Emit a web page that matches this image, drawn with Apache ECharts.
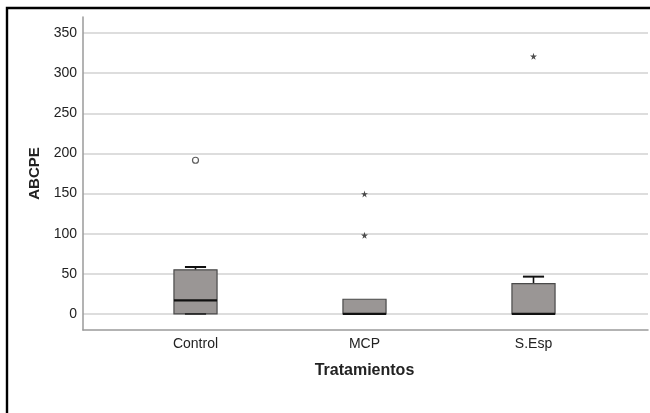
<!DOCTYPE html>
<html>
<head>
<meta charset="utf-8">
<script src="https://cdn.jsdelivr.net/npm/echarts@6/dist/echarts.min.js"></script>
<style>
  html, body { margin: 0; padding: 0; background: #fff; }
  #chart { width: 650px; height: 413px; }
</style>
</head>
<body>
<div id="chart"></div>
<script>
// Treatments and their box summaries: [min, Q1, median, Q3, max]
const categories = ['Control', 'MCP', 'S.Esp'];
const boxStats = [
  [0, 0, 17, 55, 58.5],
  [0, 0, 0, 18.3, 18.3],
  [0, 0, 0, 37.7, 46.5]
];
// Outliers (circle) and extreme values (star): [category index, value]
const outlierPoints = [[0, 191.5]];
const extremePoints = [[1, 149.5], [1, 98], [2, 321]];
const yTicks = [0, 50, 100, 150, 200, 250, 300, 350];

const FONT = '"Liberation Sans", Arial, sans-serif';
const STAR = 'path://M50 0 L61 35 L98 35 L68 57 L79 91 L50 70 L21 91 L32 57 L2 35 L39 35 Z';

const chart = echarts.init(document.getElementById('chart'), null, { renderer: 'canvas' });

const boxData = boxStats.map((s, i) => [i].concat(s));

function renderBox(params, api) {
  const idx = api.value(0);
  const bandW = api.size([1, 0])[0];
  const boxW = bandW * 0.255;
  const capW = boxW * 0.49;
  const [cx, yMin] = api.coord([idx, api.value(1)]);
  const yQ1 = api.coord([idx, api.value(2)])[1];
  const yMed = api.coord([idx, api.value(3)])[1];
  const yQ3 = api.coord([idx, api.value(4)])[1];
  const yMax = api.coord([idx, api.value(5)])[1];
  const children = [];
  const lineStyle = { stroke: '#111', lineWidth: 1.6 };
  if (yMax < yQ3 - 0.5) {
    children.push({ type: 'line', shape: { x1: cx, y1: yQ3, x2: cx, y2: yMax }, style: lineStyle });
    children.push({ type: 'line', shape: { x1: cx - capW / 2, y1: yMax, x2: cx + capW / 2, y2: yMax }, style: { stroke: '#111', lineWidth: 2 } });
  }
  children.push({
    type: 'rect',
    shape: { x: cx - boxW / 2, y: yQ3, width: boxW, height: yQ1 - yQ3 },
    style: { fill: '#9a9695', stroke: '#4a4a4a', lineWidth: 1.2 }
  });
  if (yMin > yQ1 + 0.5) {
    children.push({ type: 'line', shape: { x1: cx, y1: yQ1, x2: cx, y2: yMin }, style: lineStyle });
  }
  children.push({ type: 'line', shape: { x1: cx - capW / 2, y1: yMin, x2: cx + capW / 2, y2: yMin }, style: { stroke: '#222', lineWidth: 1.6 } });
  children.push({
    type: 'line',
    shape: { x1: cx - boxW / 2, y1: yMed, x2: cx + boxW / 2, y2: yMed },
    style: { stroke: '#111', lineWidth: 2.2 }
  });
  return { type: 'group', children };
}

const option = {
  animation: false,
  backgroundColor: '#fff',
  graphic: [{
    type: 'rect',
    shape: { x: 7, y: 8, width: 700, height: 500 },
    style: { fill: 'none', stroke: '#000', lineWidth: 2.4 },
    z: 100
  }],
  grid: [
    { left: 83, right: 2, top: 17, bottom: 83 },
    { left: 111, right: 32, top: 17, bottom: 83 }
  ],
  xAxis: [
    {
      gridIndex: 0, type: 'value', min: 0, max: 1,
      axisLine: { show: true, onZero: false, lineStyle: { color: '#9a9a9a', width: 1.5 } },
      axisTick: { show: false }, axisLabel: { show: false }, splitLine: { show: false }
    },
    {
      gridIndex: 1, type: 'category', data: categories,
      axisLine: { show: false }, axisTick: { show: false },
      axisLabel: { color: '#222', fontSize: 14, fontFamily: FONT, margin: 7 },
      name: 'Tratamientos', nameLocation: 'middle', nameGap: 33,
      nameTextStyle: { color: '#222', fontSize: 16, fontWeight: 'bold', fontFamily: FONT }
    }
  ],
  yAxis: [
    {
      gridIndex: 0, type: 'value', min: -20, max: 370,
      axisLine: { show: true, lineStyle: { color: '#9a9a9a', width: 1.5 } },
      axisTick: { show: false, customValues: yTicks },
      axisLabel: { customValues: yTicks, color: '#222', fontSize: 14, fontFamily: FONT, margin: 6 },
      splitLine: { show: true, lineStyle: { color: '#d2d2d2', width: 1.5 } },
      name: 'ABCPE', nameLocation: 'middle', nameGap: 39, nameRotate: 90,
      nameTextStyle: { color: '#222', fontSize: 15, fontWeight: 'bold', fontFamily: FONT }
    },
    {
      gridIndex: 1, type: 'value', min: -20, max: 370, show: false,
      splitLine: { show: false }
    }
  ],
  series: [
    {
      type: 'custom', xAxisIndex: 1, yAxisIndex: 1,
      renderItem: renderBox,
      encode: { x: 0, y: [1, 2, 3, 4, 5] },
      data: boxData, z: 3
    },
    {
      type: 'scatter', xAxisIndex: 1, yAxisIndex: 1,
      symbol: 'circle', symbolSize: 6,
      itemStyle: { color: '#fff', borderColor: '#333', borderWidth: 1.2 },
      data: outlierPoints, z: 4
    },
    {
      type: 'scatter', xAxisIndex: 1, yAxisIndex: 1,
      symbol: STAR, symbolSize: 7,
      itemStyle: { color: '#222' },
      data: extremePoints, z: 4
    }
  ]
};

chart.setOption(option);
</script>
</body>
</html>
